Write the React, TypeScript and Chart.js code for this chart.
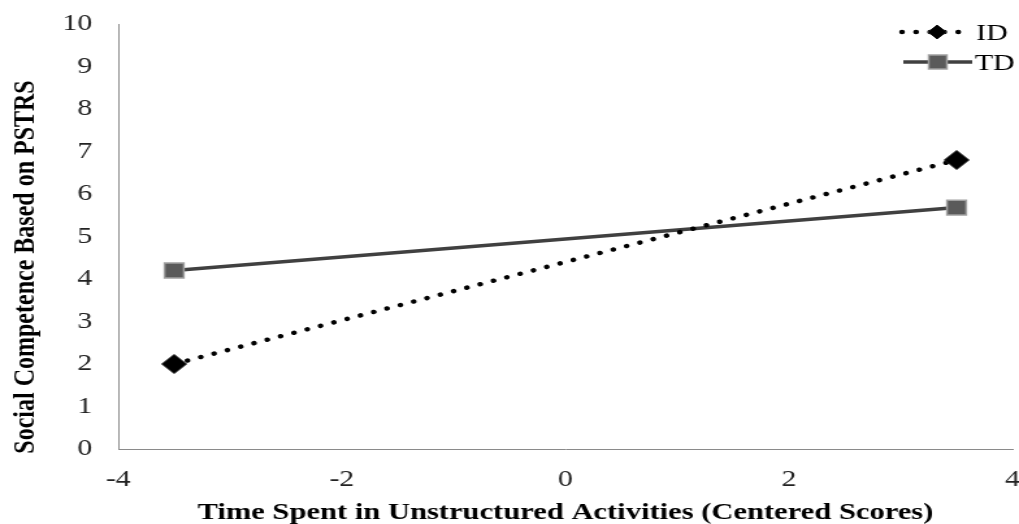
import React, { useEffect, useRef } from 'react';
import { Chart, registerables } from 'chart.js';

Chart.register(...registerables);

// ---- data ----
const X_VALUES = [-3.5, 3.5];
const ID_VALUES = [2.0, 6.8];
const TD_VALUES = [4.2, 5.68];
const SERIES_NAMES = ['ID', 'TD'];
const X_TICKS = [-4, -2, 0, 2, 4];
const Y_TICKS = [0, 1, 2, 3, 4, 5, 6, 7, 8, 9, 10];
const X_TITLE = 'Time Spent in Unstructured Activities (Centered Scores)';
const Y_TITLE = 'Social Competence Based on PSTRS';

// ---- presentation ----
const STRETCH = 1.3; // the reference is horizontally stretched
const CSS_W = 1019;
const CSS_H = 524;
const W = Math.round(CSS_W / STRETCH);
const H = CSS_H;
const SERIF = '"Liberation Serif", "Times New Roman", serif';

function diamond(ctx: CanvasRenderingContext2D, x: number, y: number, r: number) {
  ctx.beginPath();
  ctx.moveTo(x, y - r);
  ctx.lineTo(x + r, y);
  ctx.lineTo(x, y + r);
  ctx.lineTo(x - r, y);
  ctx.closePath();
}

const textPlugin = {
  id: 'customText',
  afterDraw(chart: any) {
    const ctx: CanvasRenderingContext2D = chart.ctx;
    const { left, right } = chart.chartArea;
    ctx.save();
    ctx.fillStyle = '#000';
    ctx.textBaseline = 'alphabetic';
    // x title
    ctx.font = `bold 23.5px ${SERIF}`;
    ctx.textAlign = 'center';
    ctx.fillText(X_TITLE, (left + right) / 2, 519);
    // y title
    ctx.save();
    ctx.font = `bold 24px ${SERIF}`;
    ctx.translate(25.5, 267);
    ctx.rotate(-Math.PI / 2);
    ctx.fillText(Y_TITLE, 0, 0);
    ctx.restore();

    // legend
    const ds = chart.data.datasets;
    const rows = [
      { y: 32, x0: 694, x1: 742, tx: 751, ty: 40 },
      { y: 62, x0: 695, x1: 748, tx: 750, ty: 70 },
    ];
    rows.forEach((row, i) => {
      const d = ds[i];
      ctx.save();
      ctx.strokeStyle = d.borderColor;
      ctx.lineWidth = d.borderWidth;
      ctx.lineCap = d.borderCapStyle || 'butt';
      ctx.setLineDash(d.borderDash || []);
      ctx.beginPath();
      ctx.moveTo(row.x0, row.y);
      ctx.lineTo(row.x1, row.y);
      ctx.stroke();
      ctx.restore();
      const cx = (row.x0 + row.x1) / 2 + (i === 0 ? 3 : 0);
      ctx.save();
      ctx.fillStyle = d.pointBackgroundColor;
      ctx.strokeStyle = d.pointBorderColor;
      ctx.lineWidth = d.pointBorderWidth;
      if (d.pointStyle === 'rectRot') {
        diamond(ctx, cx, row.y, 7);
      } else {
        const s = 14;
        ctx.beginPath();
        ctx.rect(cx - s / 2, row.y - s / 2, s, s);
      }
      ctx.fill();
      ctx.stroke();
      ctx.restore();
      ctx.font = `23px ${SERIF}`;
      ctx.textAlign = 'left';
      ctx.fillStyle = '#000';
      ctx.fillText(d.label, row.tx, row.ty);
    });
    ctx.restore();
  },
};

export default function App() {
  const ref = useRef<HTMLCanvasElement | null>(null);

  useEffect(() => {
    const canvas = ref.current;
    if (!canvas) return;
    const zeroPad = (s: any) => {
      s.paddingLeft = 0;
      s.paddingRight = 0;
      s.paddingTop = 0;
      s.paddingBottom = 0;
    };
    const chart = new Chart(canvas, {
      type: 'line',
      data: {
        datasets: [
          {
            label: SERIES_NAMES[0],
            data: X_VALUES.map((x, i) => ({ x, y: ID_VALUES[i] })),
            borderColor: '#000000',
            borderWidth: 4.5,
            borderDash: [0.01, 10.8],
            borderCapStyle: 'round',
            pointStyle: 'rectRot',
            pointRadius: 9.5,
            pointBackgroundColor: '#000000',
            pointBorderColor: '#1a1a1a',
            pointBorderWidth: 1,
            tension: 0,
          },
          {
            label: SERIES_NAMES[1],
            data: X_VALUES.map((x, i) => ({ x, y: TD_VALUES[i] })),
            borderColor: '#404040',
            borderWidth: 3.5,
            pointStyle: 'rect',
            pointRadius: 10.5,
            pointBackgroundColor: '#5a5a5a',
            pointBorderColor: '#a0a0a0',
            pointBorderWidth: 1.5,
            tension: 0,
          },
        ] as any,
      },
      options: {
        animation: false,
        responsive: false,
        devicePixelRatio: 1,
        layout: { autoPadding: false, padding: { left: 0, top: 24, right: 5, bottom: 0 } },
        plugins: {
          legend: { display: false },
          tooltip: { enabled: false },
        },
        scales: {
          x: {
            type: 'linear',
            min: -4,
            max: 4,
            grid: { display: false, drawTicks: false },
            border: { display: true, color: '#8a8a8a', width: 1 },
            ticks: {
              font: { family: SERIF, size: 23 },
              color: '#222222',
              padding: 17,
              maxRotation: 0,
              callback: (v: any) => String(v),
            },
            afterBuildTicks: (s: any) => {
              s.ticks = X_TICKS.map((v) => ({ value: v }));
            },
            afterFit: (s: any) => {
              s.height = 75;
              zeroPad(s);
            },
          },
          y: {
            type: 'linear',
            min: 0,
            max: 10,
            grid: { display: false, drawTicks: false },
            border: { display: true, color: '#8a8a8a', width: 1 },
            ticks: {
              font: { family: SERIF, size: 23 },
              color: '#222222',
              padding: 20,
              callback: (v: any) => String(v),
            },
            afterBuildTicks: (s: any) => {
              s.ticks = Y_TICKS.map((v) => ({ value: v }));
            },
            afterFit: (s: any) => {
              s.width = 91;
              zeroPad(s);
            },
          },
        },
      } as any,
      plugins: [textPlugin],
    });
    return () => chart.destroy();
  }, []);

  return (
    <div style={{ position: 'absolute', left: 0, top: 0, width: CSS_W, height: CSS_H, background: '#fff', overflow: 'hidden' }}>
      <canvas
        ref={ref}
        width={W}
        height={H}
        style={{ display: 'block', width: `${CSS_W}px`, height: `${CSS_H}px` }}
      />
    </div>
  );
}
